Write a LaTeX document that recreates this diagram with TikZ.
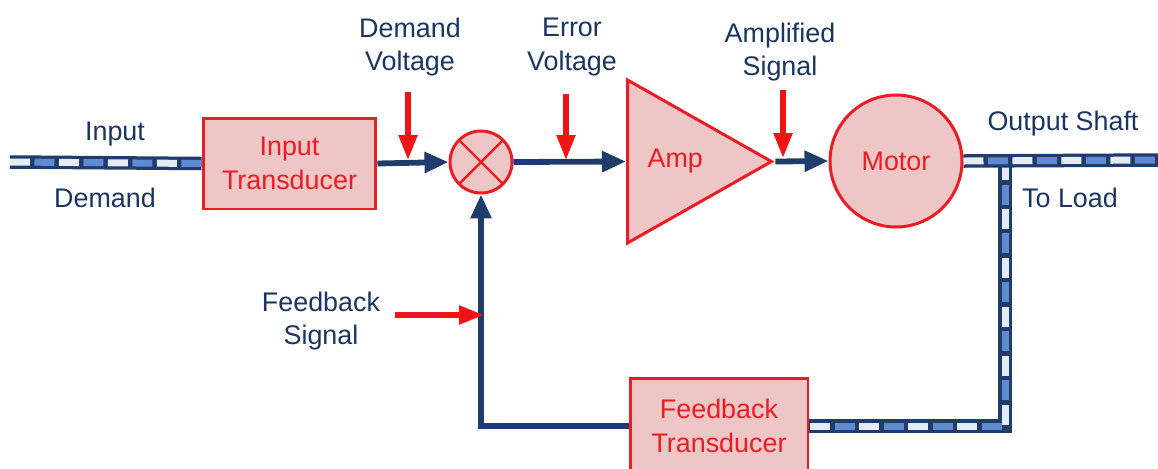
\documentclass[tikz,border=0pt]{standalone}
\usepackage{fontspec}
\setmainfont{Liberation Sans}
\usepackage{tikz}
\usetikzlibrary{positioning, arrows.meta, calc, shapes.geometric}
\definecolor{navy}{HTML}{1f3c6b}
\definecolor{txtNavy}{HTML}{1a3560}
\definecolor{blkRed}{HTML}{ec1c24}
\definecolor{blkFill}{HTML}{efc6c6}
\definecolor{arrRed}{HTML}{f01414}
\definecolor{shaftLight}{HTML}{e6ecf6}
\definecolor{shaftMid}{HTML}{5f8ad2}
\begin{document}
\begin{tikzpicture}[x=0.02cm, y=-0.02cm,
  blk/.style={draw=blkRed, fill=blkFill, line width=1.7pt, text=blkRed, align=center, font=\fontsize{15.3}{19.3}\selectfont},
  blktxt/.style={text=blkRed, font=\fontsize{15.3}{19.3}\selectfont},
  lbl/.style={text=txtNavy, align=center, font=\fontsize{15.3}{19.3}\selectfont, inner sep=0pt},
  sig/.style={draw=navy, line width=3.3pt, -{Triangle[length=0.48cm, width=0.4cm]}},
  tap/.style={draw=arrRed, line width=3pt, -{Triangle[length=0.5cm, width=0.36cm]}},
  shaft/.style={draw=navy, line width=0.27cm, line join=miter,
    postaction={draw=shaftLight, line width=0.14cm, dash pattern=on 0.4cm off 0.58cm},
    postaction={draw=shaftMid, line width=0.14cm, dash pattern=on 0.4cm off 0.58cm, dash phase=0.49cm}}]
\useasboundingbox (0,0) rectangle (1158,468);
\node[blk, minimum width=3.46cm, minimum height=1.82cm] (it) at (289.5,163.5) {Input\\Transducer};
\node[blk, circle, minimum size=1.24cm, path picture={\draw[blkRed, line width=1.4pt] (path picture bounding box.north west) -- (path picture bounding box.south east) (path picture bounding box.north east) -- (path picture bounding box.south west);}] (sum) at (481,162) {};
\node[blk, isosceles triangle, isosceles triangle stretches, minimum height=2.88cm, minimum width=3.26cm, inner sep=0pt, anchor=west] (amp) at (626,161.5) {};
\node[blktxt] at ($(amp.west)!0.33!(amp.apex)$) {Amp};
\node[blk, circle, minimum size=2.64cm] (motor) at (896,161) {Motor};
\node[blk, minimum width=3.56cm, minimum height=1.9cm] (fb) at (719,426) {Feedback\\Transducer};
% shafts
\coordinate (inL) at (10,162);
\coordinate (outR) at (1160,160);
\coordinate (jn) at (1005,160);
\draw[shaft] (inL) -- (it.west);
\draw[shaft] (jn) |- (fb.east);
\draw[shaft] (motor.east) -- (outR);
% signals
\draw[sig] (it.east) -- (sum.west);
\draw[sig] (sum.east) -- (amp.west);
\draw[sig] (amp.apex) -- (motor.west);
\draw[sig] (fb.west) -| (sum.south);
% labels
\node[lbl] at (115,134) {Input};
\node[lbl] at (105,198) {Demand};
\node[lbl] (dv) at (410,47) {Demand\\Voltage};
\node[lbl] (ev) at (572,47) {Error\\Voltage};
\node[lbl] (as) at (780,52) {Amplified\\Signal};
\node[lbl] at (1063,124) {Output Shaft};
\node[lbl] at (1070,198) {To Load};
\node[lbl] (fs) at (321,321) {Feedback\\Signal};
\coordinate (dvT) at (408,92);   \coordinate (dvH) at (408,160);
\coordinate (evT) at (566,94);   \coordinate (evH) at (566,160);
\coordinate (asT) at (783,90);   \coordinate (asH) at (783,158);
\coordinate (fsT) at (395,315);  \coordinate (fsH) at (484,315);
\draw[tap] (dvT) -- (dvH);
\draw[tap] (evT) -- (evH);
\draw[tap] (asT) -- (asH);
\draw[tap] (fsT) -- (fsH);
\end{tikzpicture}
\end{document}
